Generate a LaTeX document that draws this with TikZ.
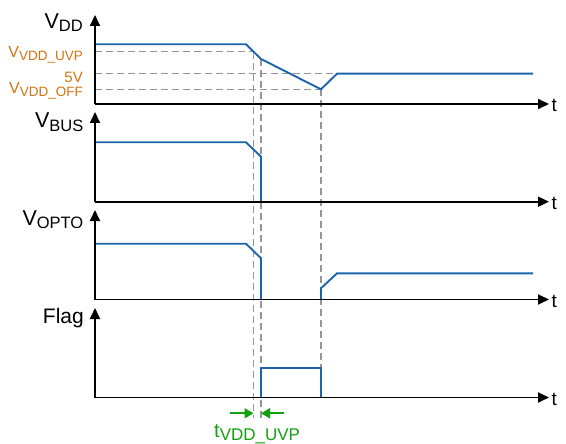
\documentclass[tikz,border=0pt]{standalone}
\usepackage{fontspec}
\setmainfont{Liberation Sans}
\usetikzlibrary{arrows.meta}
\definecolor{wblue}{RGB}{28,100,172}
\definecolor{worange}{RGB}{212,114,16}
\definecolor{wgreen}{RGB}{16,160,16}
\definecolor{wgray}{RGB}{150,150,150}
\newcommand\mainlab[2]{{\fontsize{21.5}{21.5}\selectfont #1}\raisebox{-3.5pt}{\fontsize{16.5}{16.5}\selectfont #2}}
\newcommand\lvllab[2]{{\fontsize{16}{16}\selectfont #1}\raisebox{-3pt}{\fontsize{13.5}{13.5}\selectfont #2}}
\begin{document}
\begin{tikzpicture}[x=1pt,y=-1pt,
  axis/.style={line width=1.8pt,-{Triangle[length=11pt,width=10pt]}},
  wave/.style={wblue,line width=1.9pt,line join=miter},
  guide/.style={wgray,line width=1.3pt,dash pattern=on 7pt off 4pt},
  lvl/.style={worange,inner sep=0pt},
  lab/.style={inner sep=0pt},
  tlab/.style={inner sep=0pt,font=\fontsize{19}{19}\selectfont},
  garrow/.style={wgreen,line width=1.8pt,-{Triangle[length=9pt,width=10pt]}}]
\useasboundingbox (0,0) rectangle (566,444);
% origins and axis ends
\foreach \n/\y/\top in {a/104/15,b/201.7/112,c/299.5/210,d/397.5/308}{
  \coordinate (o\n) at (95,\y);
  \coordinate (t\n) at (95,\top);
  \coordinate (r\n) at (549,\y);
}
% guide coordinates
\coordinate (uvpL) at (95,51.7);
\coordinate (uvpR) at (253.5,51.7);
\coordinate (fvL) at (95,73.7);
\coordinate (fvR) at (337,73.7);
\coordinate (offL) at (95,89.3);
\coordinate (offR) at (321,89.3);
\coordinate (g1b) at (253.5,418);
\coordinate (g2t) at (261,59);
\coordinate (g2b) at (261,418);
\coordinate (g3b) at (321,397.5);
% guides
\draw[guide] (uvpL) -- (uvpR);
\draw[guide] (fvL) -- (fvR);
\draw[guide] (offL) -- (offR);
\draw[guide] (uvpR) -- (g1b);
\draw[guide] (g2t) -- (g2b);
\draw[guide] (offR) -- (g3b);
% VDD waveform
\coordinate (va0) at (95,44.3);
\coordinate (va1) at (246,44.3);
\coordinate (va2) at (261,59);
\coordinate (va3) at (321,89.3);
\coordinate (va4) at (337,73.7);
\coordinate (va5) at (533,73.7);
\draw[wave] (va0) -- (va1) -- (va2) -- (va3) -- (va4) -- (va5);
% VBUS waveform
\coordinate (vb0) at (95,142.3);
\coordinate (vb1) at (246,142.3);
\coordinate (vb2) at (261,156.7);
\coordinate (vb3) at (261,201.7);
\draw[wave] (vb0) -- (vb1) -- (vb2) -- (vb3);
% VOPTO waveform
\coordinate (vc0) at (95,243.7);
\coordinate (vc1) at (246,243.7);
\coordinate (vc2) at (261,258.3);
\coordinate (vc3) at (261,299.5);
\coordinate (vc4) at (321,299.5);
\coordinate (vc5) at (321,288.3);
\coordinate (vc6) at (337,273.3);
\coordinate (vc7) at (533,273.3);
\draw[wave] (vc0) -- (vc1) -- (vc2) -- (vc3);
\draw[wave] (vc4) -- (vc5) -- (vc6) -- (vc7);
% Flag waveform
\coordinate (vd0) at (261,397.5);
\coordinate (vd1) at (261,367.7);
\coordinate (vd2) at (321,367.7);
\coordinate (vd3) at (321,397.5);
\draw[wave,line width=1.6pt] (vd0) -- (vd1) -- (vd2) -- (vd3);
% axes
\foreach \n in {a,b,c,d}{
  \draw[axis] (o\n) -- (t\n);
  \draw[axis] (o\n) -- (r\n);
}
% t labels
\node[tlab,anchor=base west] (ta) at (551.5,111.5) {t};
\node[tlab,anchor=base west] (tb) at (551.5,209.2) {t};
\node[tlab,anchor=base west] (tc) at (551.5,307) {t};
\node[tlab,anchor=base west] (td) at (551.5,405) {t};
% axis labels
\node[lab,anchor=base east] (lvdd) at (83,28.5) {\mainlab{V}{DD}};
\node[lab,anchor=base east] (lvbus) at (83.5,128) {\mainlab{V}{BUS}};
\node[lab,anchor=base east] (lvopto) at (83.5,225.5) {\mainlab{V}{OPTO}};
\node[lab,anchor=base east,font=\fontsize{21}{21}\selectfont] (lflag) at (84,323) {Flag};
% level labels
\node[lvl,anchor=base east] (luvp) at (83,58) {\lvllab{V}{VDD\_UVP}};
\node[lvl,anchor=base east,font=\fontsize{15}{15}\selectfont] (l5v) at (83,83) {5V};
\node[lvl,anchor=base east] (loff) at (83,94) {\lvllab{V}{VDD\_OFF}};
% t_VDD_UVP
\coordinate (ga0) at (230,413.3);
\coordinate (ga1) at (253.5,413.3);
\coordinate (gb0) at (284,413.3);
\coordinate (gb1) at (261,413.3);
\draw[garrow] (ga0) -- (ga1);
\draw[garrow] (gb0) -- (gb1);
\node[wgreen,inner sep=0pt,anchor=base west] (ltuvp) at (214,437) {{\fontsize{20}{20}\selectfont t}\raisebox{-3pt}{\fontsize{17}{17}\selectfont VDD\_UVP}};
\end{tikzpicture}
\end{document}
